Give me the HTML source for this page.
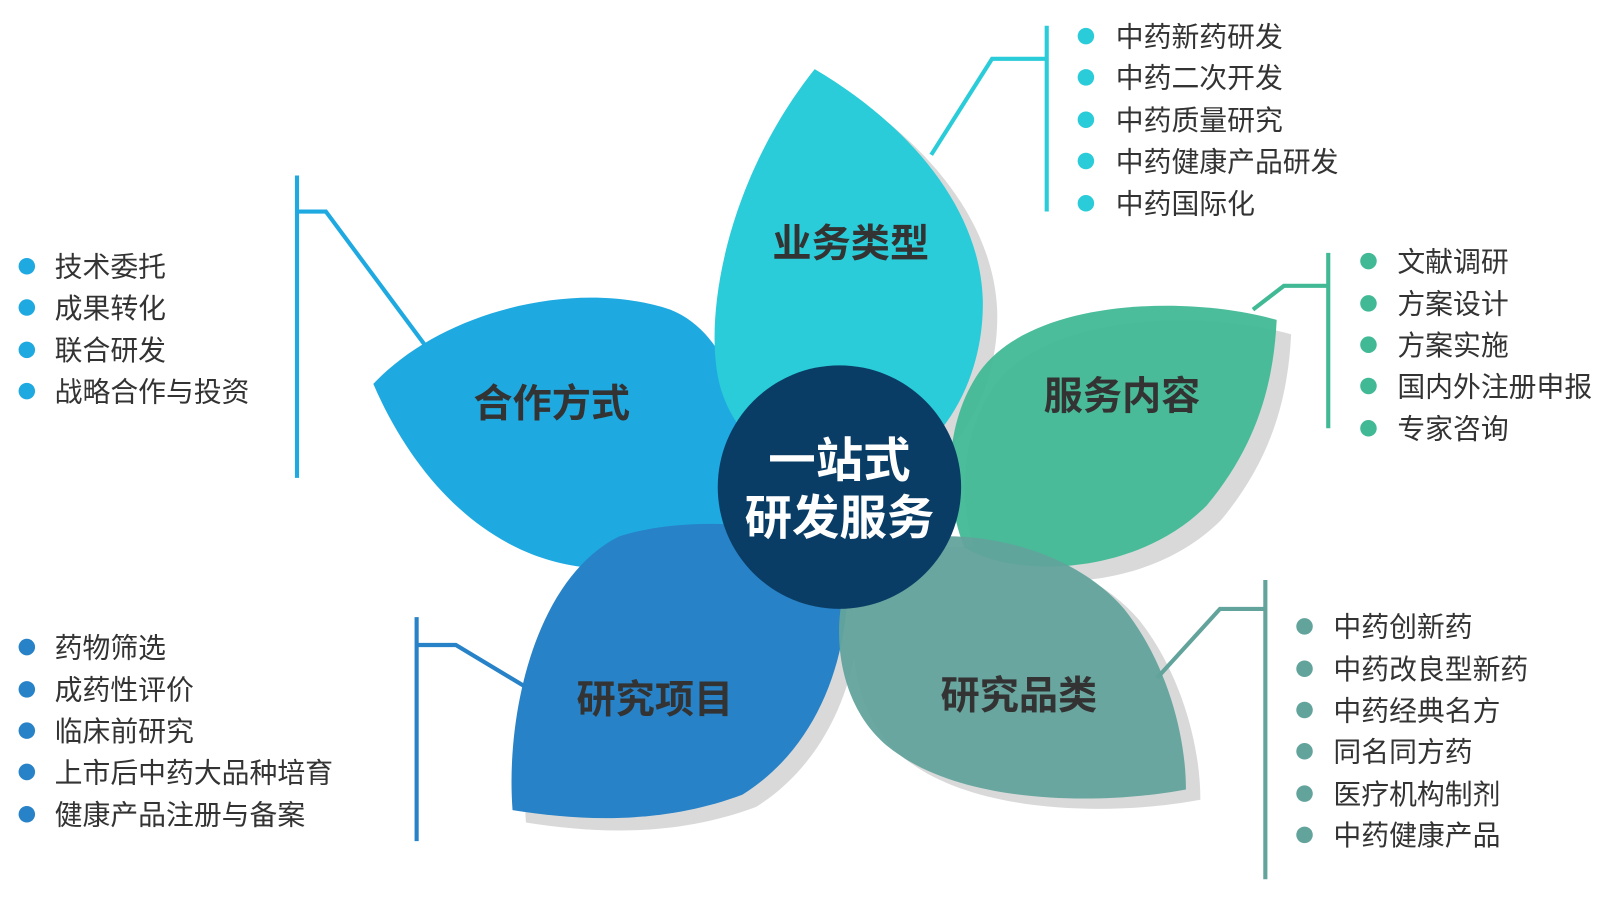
<!DOCTYPE html>
<html><head><meta charset="utf-8"><style>
html,body{margin:0;padding:0;background:#fff;width:1617px;height:903px;overflow:hidden}
svg{display:block}
text{font-family:"Liberation Sans","Noto Sans CJK SC",sans-serif}
.li{font-size:27px;fill:#333}
.pl{font-size:38px;font-weight:bold;fill:#333;text-anchor:middle}
</style></head><body>
<svg width="1617" height="903" viewBox="0 0 1568 875" preserveAspectRatio="none" xmlns="http://www.w3.org/2000/svg">
<g fill="#d9d9d9">
<path transform="translate(14,12)" d="M790,67 C700,180 680,320 700,380 C720,440 780,470 820,470 C900,460 955,380 953,290 C950,200 880,120 790,67 Z"/>
<path transform="translate(14,14)" d="M1238,310 C1150,285 1000,290 950,360 C915,410 915,480 935,530 C980,560 1100,560 1170,490 C1220,430 1235,370 1238,310 Z"/>
<path transform="translate(13,12)" d="M497,785 C490,690 520,560 600,520 C660,500 760,505 820,530 C830,620 800,720 720,770 C640,800 560,795 497,785 Z"/>
<path transform="translate(14,10)" d="M1150,765 C1070,780 940,780 870,730 C810,690 800,600 830,540 C900,500 1030,520 1090,590 C1130,640 1150,710 1150,765 Z"/>
</g>
<path fill="#1fa9e1" d="M362,372 C430,300 560,270 650,300 C700,320 720,380 730,440 C720,520 660,560 570,550 C470,540 400,460 362,372 Z"/>
<path fill="#29ccd8" d="M790,67 C700,180 680,320 700,380 C720,440 780,470 820,470 C900,460 955,380 953,290 C950,200 880,120 790,67 Z"/>
<path fill="#41b995" fill-opacity="0.95" d="M1238,310 C1150,285 1000,290 950,360 C915,410 915,480 935,530 C980,560 1100,560 1170,490 C1220,430 1235,370 1238,310 Z"/>
<path fill="#2782c7" d="M497,785 C490,690 520,560 600,520 C660,500 760,505 820,530 C830,620 800,720 720,770 C640,800 560,795 497,785 Z"/>
<path fill="#62a39c" fill-opacity="0.95" d="M1150,765 C1070,780 940,780 870,730 C810,690 800,600 830,540 C900,500 1030,520 1090,590 C1130,640 1150,710 1150,765 Z"/>
<circle cx="814" cy="472" r="118" fill="#0a3d66"/>
<text x="814" y="462" text-anchor="middle" font-size="46" font-weight="bold" fill="#fff">一站式</text>
<text x="814" y="518" text-anchor="middle" font-size="46" font-weight="bold" fill="#fff">研发服务</text>
<text class="pl" x="825" y="249">业务类型</text>
<text class="pl" x="535" y="404">合作方式</text>
<text class="pl" x="1088" y="397">服务内容</text>
<text class="pl" x="635" y="691">研究项目</text>
<text class="pl" x="988" y="687">研究品类</text>
<g fill="none" stroke-width="4">
<path stroke="#29ccd8" d="M1015,25 V205 M1015,57 H962 L903,150"/>
<path stroke="#1fa9e1" d="M288,170 V463 M288,205 H316 L414,337"/>
<path stroke="#41b995" d="M1288,245 V415 M1288,277 H1245 L1215,300"/>
<path stroke="#2782c7" d="M404,598 V815 M404,625 H442 L517,670"/>
<path stroke="#62a39c" d="M1227,562 V852 M1227,590 H1183 L1122,657"/>
</g>
<g fill="#29ccd8"><circle cx="1053" cy="35" r="8"/><circle cx="1053" cy="75" r="8"/><circle cx="1053" cy="116" r="8"/><circle cx="1053" cy="156" r="8"/><circle cx="1053" cy="197" r="8"/></g>
<g class="li"><text x="1082" y="45">中药新药研发</text><text x="1082" y="85">中药二次开发</text><text x="1082" y="126">中药质量研究</text><text x="1082" y="166">中药健康产品研发</text><text x="1082" y="207">中药国际化</text></g>
<g fill="#41b995"><circle cx="1327" cy="253" r="8"/><circle cx="1327" cy="294" r="8"/><circle cx="1327" cy="334" r="8"/><circle cx="1327" cy="374" r="8"/><circle cx="1327" cy="415" r="8"/></g>
<g class="li"><text x="1355" y="263">文献调研</text><text x="1355" y="304">方案设计</text><text x="1355" y="344">方案实施</text><text x="1355" y="384">国内外注册申报</text><text x="1355" y="425">专家咨询</text></g>
<g fill="#1fa9e1"><circle cx="26" cy="258" r="8"/><circle cx="26" cy="298" r="8"/><circle cx="26" cy="339" r="8"/><circle cx="26" cy="379" r="8"/></g>
<g class="li"><text x="53" y="268">技术委托</text><text x="53" y="308">成果转化</text><text x="53" y="349">联合研发</text><text x="53" y="389">战略合作与投资</text></g>
<g fill="#2782c7"><circle cx="26" cy="627" r="8"/><circle cx="26" cy="668" r="8"/><circle cx="26" cy="708" r="8"/><circle cx="26" cy="748" r="8"/><circle cx="26" cy="789" r="8"/></g>
<g class="li"><text x="53" y="637">药物筛选</text><text x="53" y="678">成药性评价</text><text x="53" y="718">临床前研究</text><text x="53" y="758">上市后中药大品种培育</text><text x="53" y="799">健康产品注册与备案</text></g>
<g fill="#62a39c"><circle cx="1265" cy="607" r="8"/><circle cx="1265" cy="648" r="8"/><circle cx="1265" cy="688" r="8"/><circle cx="1265" cy="728" r="8"/><circle cx="1265" cy="769" r="8"/><circle cx="1265" cy="809" r="8"/></g>
<g class="li"><text x="1293" y="617">中药创新药</text><text x="1293" y="658">中药改良型新药</text><text x="1293" y="698">中药经典名方</text><text x="1293" y="738">同名同方药</text><text x="1293" y="779">医疗机构制剂</text><text x="1293" y="819">中药健康产品</text></g>
</svg>
</body></html>
